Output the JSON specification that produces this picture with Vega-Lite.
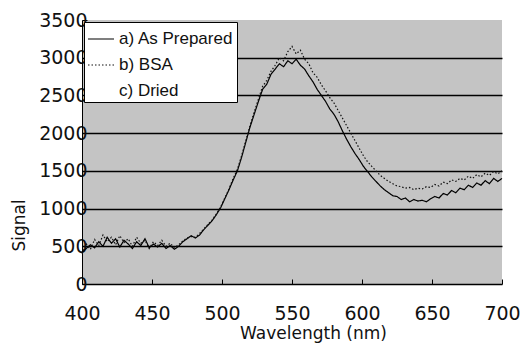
{
  "$schema": "https://vega.github.io/schema/vega-lite/v6.json",
  "autosize": "none",
  "width": 420,
  "height": 264,
  "padding": {"left": 82, "top": 20, "right": 27, "bottom": 61},
  "background": "white",
  "config": {
    "view": {"fill": "#c4c4c4", "stroke": null},
    "font": "DejaVu Sans"
  },
  "data": {
    "values": [
      {"nm":400,"a":420,"b":400,"c":430},{"nm":403,"a":470,"b":530,"c":480},{"nm":406,"a":520,"b":460,"c":510},{"nm":409,"a":480,"b":590,"c":500},
      {"nm":412,"a":560,"b":510,"c":540},{"nm":415,"a":500,"b":650,"c":520},{"nm":418,"a":620,"b":560,"c":590},{"nm":421,"a":540,"b":620,"c":560},
      {"nm":424,"a":600,"b":520,"c":580},{"nm":427,"a":490,"b":640,"c":520},{"nm":430,"a":580,"b":550,"c":560},{"nm":433,"a":530,"b":600,"c":550},
      {"nm":436,"a":470,"b":500,"c":490},{"nm":439,"a":560,"b":620,"c":570},{"nm":442,"a":510,"b":540,"c":520},{"nm":445,"a":600,"b":580,"c":580},
      {"nm":448,"a":480,"b":470,"c":490},{"nm":451,"a":530,"b":560,"c":540},{"nm":454,"a":490,"b":510,"c":500},{"nm":457,"a":540,"b":580,"c":550},
      {"nm":460,"a":470,"b":500,"c":490},{"nm":463,"a":510,"b":540,"c":520},{"nm":466,"a":460,"b":480,"c":470},{"nm":469,"a":500,"b":520,"c":510},
      {"nm":472,"a":560,"b":570,"c":560},{"nm":475,"a":600,"b":610,"c":600},{"nm":478,"a":640,"b":630,"c":630},{"nm":481,"a":610,"b":620,"c":620},
      {"nm":484,"a":650,"b":670,"c":660},{"nm":487,"a":720,"b":730,"c":720},{"nm":490,"a":780,"b":790,"c":780},{"nm":493,"a":840,"b":850,"c":840},
      {"nm":496,"a":920,"b":930,"c":920},{"nm":499,"a":1010,"b":1020,"c":1010},{"nm":502,"a":1130,"b":1140,"c":1130},{"nm":505,"a":1250,"b":1260,"c":1250},
      {"nm":508,"a":1380,"b":1400,"c":1390},{"nm":511,"a":1500,"b":1520,"c":1510},{"nm":514,"a":1680,"b":1700,"c":1690},{"nm":517,"a":1880,"b":1900,"c":1890},
      {"nm":520,"a":2080,"b":2100,"c":2090},{"nm":523,"a":2250,"b":2280,"c":2260},{"nm":526,"a":2420,"b":2450,"c":2430},{"nm":529,"a":2580,"b":2620,"c":2600},
      {"nm":532,"a":2650,"b":2700,"c":2670},{"nm":535,"a":2780,"b":2820,"c":2800},{"nm":538,"a":2850,"b":2900,"c":2870},{"nm":541,"a":2920,"b":3000,"c":2950},
      {"nm":544,"a":2880,"b":2960,"c":2920},{"nm":547,"a":2960,"b":3080,"c":3000},{"nm":550,"a":2920,"b":3150,"c":3020},{"nm":553,"a":2980,"b":3050,"c":3000},
      {"nm":556,"a":2900,"b":3100,"c":2980},{"nm":559,"a":2850,"b":2980,"c":2900},{"nm":562,"a":2760,"b":2920,"c":2830},{"nm":565,"a":2680,"b":2800,"c":2740},
      {"nm":568,"a":2580,"b":2740,"c":2650},{"nm":571,"a":2500,"b":2640,"c":2560},{"nm":574,"a":2420,"b":2560,"c":2480},{"nm":577,"a":2320,"b":2470,"c":2390},
      {"nm":580,"a":2250,"b":2400,"c":2310},{"nm":583,"a":2150,"b":2300,"c":2210},{"nm":586,"a":2030,"b":2200,"c":2100},{"nm":589,"a":1920,"b":2100,"c":2000},
      {"nm":592,"a":1820,"b":2000,"c":1900},{"nm":595,"a":1730,"b":1900,"c":1800},{"nm":598,"a":1650,"b":1800,"c":1720},{"nm":601,"a":1560,"b":1700,"c":1630},
      {"nm":604,"a":1490,"b":1620,"c":1550},{"nm":607,"a":1420,"b":1560,"c":1480},{"nm":610,"a":1360,"b":1500,"c":1420},{"nm":613,"a":1300,"b":1440,"c":1360},
      {"nm":616,"a":1250,"b":1400,"c":1320},{"nm":619,"a":1210,"b":1360,"c":1280},{"nm":622,"a":1170,"b":1330,"c":1250},{"nm":625,"a":1160,"b":1300,"c":1230},
      {"nm":628,"a":1120,"b":1290,"c":1200},{"nm":631,"a":1140,"b":1270,"c":1200},{"nm":634,"a":1090,"b":1280,"c":1180},{"nm":637,"a":1120,"b":1250,"c":1180},
      {"nm":640,"a":1100,"b":1270,"c":1180},{"nm":643,"a":1110,"b":1260,"c":1180},{"nm":646,"a":1090,"b":1290,"c":1190},{"nm":649,"a":1130,"b":1280,"c":1200},
      {"nm":652,"a":1160,"b":1320,"c":1240},{"nm":655,"a":1140,"b":1300,"c":1220},{"nm":658,"a":1200,"b":1350,"c":1270},{"nm":661,"a":1180,"b":1330,"c":1250},
      {"nm":664,"a":1240,"b":1380,"c":1310},{"nm":667,"a":1210,"b":1360,"c":1280},{"nm":670,"a":1270,"b":1400,"c":1330},{"nm":673,"a":1250,"b":1380,"c":1310},
      {"nm":676,"a":1310,"b":1430,"c":1370},{"nm":679,"a":1280,"b":1400,"c":1340},{"nm":682,"a":1340,"b":1450,"c":1390},{"nm":685,"a":1310,"b":1420,"c":1360},
      {"nm":688,"a":1370,"b":1470,"c":1420},{"nm":691,"a":1330,"b":1440,"c":1380},{"nm":694,"a":1400,"b":1490,"c":1440},{"nm":697,"a":1360,"b":1460,"c":1410},
      {"nm":700,"a":1400,"b":1500,"c":1450}
    ]
  },
  "transform": [{"fold": ["a", "b", "c"], "as": ["series", "signal"]}],
  "mark": {"type": "line", "strokeWidth": 1.2, "interpolate": "linear"},
  "encoding": {
    "x": {
      "field": "nm", "type": "quantitative",
      "scale": {"domain": [400, 700], "nice": false, "zero": false},
      "axis": {
        "title": "Wavelength (nm)", "titleFontSize": 17, "titleFontWeight": "normal", "titleColor": "#111",
        "titleX": 231, "titleY": 54, "titleAlign": "center", "titleBaseline": "alphabetic",
        "values": [400, 450, 500, 550, 600, 650, 700], "format": "d",
        "labelFontSize": 19, "labelColor": "#111", "labelPadding": 25,
        "tickSize": -5, "tickColor": "black", "domainColor": "black", "domainWidth": 1.5,
        "grid": false, "labelFlush": false
      }
    },
    "y": {
      "field": "signal", "type": "quantitative",
      "scale": {"domain": [0, 3500], "nice": false},
      "axis": {
        "title": "Signal", "titleFontSize": 17, "titleFontWeight": "normal", "titleColor": "#111",
        "titleY": 205, "titleAlign": "center", "titlePadding": 10,
        "values": [0, 500, 1000, 1500, 2000, 2500, 3000, 3500], "format": "d",
        "labelFontSize": 19, "labelColor": "#111", "labelPadding": 0,
        "tickSize": -5, "tickColor": "black", "domainColor": "black", "domainWidth": 1,
        "grid": true, "gridWidth": 1.5,
        "gridColor": {"condition": {"test": "datum.value === 3500 || datum.value === 0", "value": null}, "value": "black"}
      }
    },
    "color": {
      "field": "series", "type": "nominal",
      "scale": {"domain": ["a", "b", "c"], "range": ["#000000", "#111111", "transparent"]},
      "legend": {
        "title": null, "orient": "top-left", "offset": 2,
        "fillColor": "white", "strokeColor": "black", "padding": 3,
        "labelFont": "Liberation Sans", "labelFontSize": 17, "labelColor": "#111",
        "labelExpr": "datum.label === 'a' ? 'a) As Prepared' : datum.label === 'b' ? 'b) BSA' : 'c) Dried'",
        "symbolType": "stroke", "symbolSize": 676, "symbolStrokeWidth": 1.2,
        "rowPadding": 4, "labelOffset": 4, "cornerRadius": 0
      }
    },
    "strokeDash": {
      "field": "series", "type": "nominal",
      "scale": {"domain": ["a", "b", "c"], "range": [[1, 0], [1.5, 2], [1, 0]]},
      "legend": null
    }
  }
}
